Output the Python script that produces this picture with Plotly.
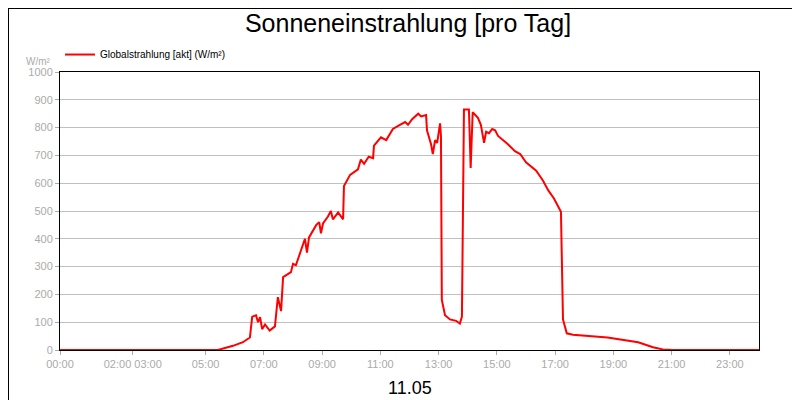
import plotly.graph_objects as go

hours = [0,5.42,5.94,6.28,6.52,6.6,6.73,6.8,6.87,6.94,7.04,7.2,7.38,7.48,7.59,7.66,7.93,8.0,8.1,8.41,8.48,8.55,8.8,8.9,8.96,9.03,9.2,9.3,9.37,9.55,9.72,9.75,9.96,10.23,10.33,10.44,10.6,10.75,10.78,11.02,11.2,11.43,11.67,11.85,11.95,12.09,12.3,12.4,12.57,12.6,12.74,12.8,12.88,12.95,13.05,13.08,13.11,13.22,13.39,13.6,13.73,13.8,13.87,14.04,14.1,14.17,14.35,14.45,14.56,14.63,14.73,14.84,14.94,15.04,15.38,15.62,15.8,16.0,16.35,16.58,16.76,16.96,17.2,17.27,17.4,17.61,18.8,19.85,20.36,20.7,21.05,24]
values = [0,0,15,28,45,120,125,100,118,75,92,70,85,190,140,262,280,310,305,400,350,405,450,460,420,455,480,500,470,495,470,590,630,650,685,670,695,690,735,765,755,795,810,820,810,830,850,840,845,790,740,705,755,745,815,770,180,125,110,105,95,120,865,865,655,855,835,810,745,785,780,795,790,770,740,715,705,675,645,610,575,545,497,110,60,55,45,28,10,2,0,0]
tick_vals = [0,2.5,5,7,9,11,13,15,17,19,21,23]
tick_text = ["00:00","02:00 03:00","05:00","07:00","09:00","11:00","13:00","15:00","17:00","19:00","21:00","23:00"]

fig = go.Figure()
fig.add_trace(go.Scatter(x=hours, y=values, mode="lines", line=dict(color="#ff0000", width=2),
                         name="Globalstrahlung [akt] (W/m²)", showlegend=True))
for h in range(1, 24):
    fig.add_vline(x=h, line=dict(color="#c0c0c0", width=1), layer="below")
fig.update_layout(
    width=800, height=400, margin=dict(l=52, r=49, t=64, b=58),
    paper_bgcolor="white", plot_bgcolor="white",
    font=dict(family="Liberation Sans, Arial", color="#aaaaaa", size=11),
    title=dict(text="Sonneneinstrahlung [pro Tag]", x=0.5, xanchor="center", y=0.985, yanchor="top",
               font=dict(size=25, color="black")),
    showlegend=True,
    legend=dict(x=0.0, y=1.115, xref="paper", yref="paper", xanchor="left", yanchor="top",
                orientation="h", font=dict(size=10, color="black"), bgcolor="rgba(0,0,0,0)"),
    xaxis=dict(range=[0,24], tickvals=tick_vals, ticktext=tick_text, showgrid=False,
               showline=True, linecolor="black", mirror=True, ticks="outside", ticklen=4,
               tickcolor="#aaaaaa", zeroline=False),
    yaxis=dict(range=[0,1000], dtick=100, gridcolor="#c0c0c0", showline=True, linecolor="black",
               mirror=True, ticks="outside", ticklen=4, tickcolor="#aaaaaa", zeroline=False),
    annotations=[
        dict(text="W/m²", x=-0.01, y=1.065, xref="paper", yref="paper", xanchor="right",
             showarrow=False, font=dict(size=10, color="#aaaaaa")),
        dict(text="11.05", x=0.5, y=-0.137, xref="paper", yref="paper", yanchor="middle",
             showarrow=False, font=dict(size=18, color="black")),
    ],
    shapes=[dict(type="rect", xref="paper", yref="paper", x0=-0.0745, x1=1.0701, y0=-0.2086, y1=1.2302,
                 line=dict(color="black", width=1))],
)
fig.write_html("out.html")
